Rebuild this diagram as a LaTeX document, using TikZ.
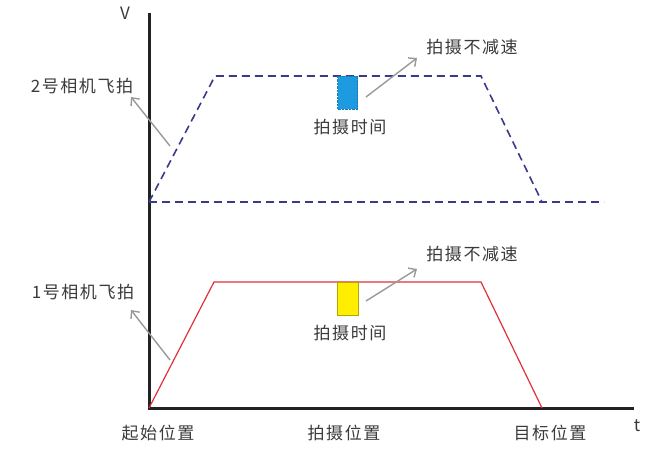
\documentclass[tikz,border=0pt]{standalone}
\usepackage{fontspec}
\setmainfont{Noto Sans CJK SC}[LetterSpace=9]
\usetikzlibrary{arrows.meta}
\definecolor{axisc}{HTML}{222222}
\definecolor{navy}{HTML}{3A3A8C}
\definecolor{redc}{HTML}{E0303A}
\definecolor{arrc}{HTML}{999999}
\definecolor{txtc}{HTML}{3A3A3A}
\definecolor{bluebox}{HTML}{1E9BE0}
\definecolor{yelbox}{HTML}{FFEE00}
\begin{document}
\begin{tikzpicture}[x=1pt,y=-1pt,
  lbl/.style={text=txtc,font=\fontsize{17}{19}\selectfont,inner sep=0pt},
  axisline/.style={draw=axisc,line width=3pt},
  bluecurve/.style={draw=navy,line width=1.6pt,dash pattern=on 8pt off 5pt},
  redcurve/.style={draw=redc,line width=1.2pt},
  callout/.style={draw=arrc,line width=1.4pt,-{Straight Barb[length=6pt,width=11pt]}},
]
\useasboundingbox (0,0) rectangle (649,456);
% axes
\coordinate (O) at (149,408);
\coordinate (Vtop) at (149,13);
\coordinate (Tend) at (634,408);
\draw[axisline] (Vtop) -- (O) -- (Tend);
\node[lbl] (V) at (125,13) {V};
\node[lbl] (t) at (637,426) {t};
% blue dashed profile
\coordinate (b0) at (149,202);
\coordinate (b1) at (215,76);
\coordinate (b2) at (481,76);
\coordinate (b3) at (542,202);
\coordinate (b4) at (604,202);
\draw[bluecurve] (b0) -- (b1) -- (b2) -- (b3);
\draw[bluecurve] (b0) -- (b4);
% red profile
\coordinate (r1) at (214,282);
\coordinate (r2) at (481,282);
\coordinate (r3) at (542,408);
\draw[redcurve] (O) -- (r1) -- (r2) -- (r3);
% boxes
\node[draw=bluebox!80!black,densely dotted,line width=0.4pt,fill=bluebox,minimum width=20pt,minimum height=33pt,inner sep=0pt] (bbox) at (347.5,92.5) {};
\node[draw=yelbox!70!black,line width=0.5pt,fill=yelbox,minimum width=21pt,minimum height=33pt,inner sep=0pt] (ybox) at (347.5,298.5) {};
% labels
\node[lbl] (bt) at (350,127) {拍摄时间};
\node[lbl] (yt) at (350,333) {拍摄时间};
\node[lbl] (bn) at (472,47) {拍摄不减速};
\node[lbl] (yn) at (472,254) {拍摄不减速};
\node[lbl] (cam2) at (82,86) {2号相机飞拍};
\node[lbl] (cam1) at (83,292) {1号相机飞拍};
\node[lbl] (start) at (158,433) {起始位置};
\node[lbl] (shoot) at (344,433) {拍摄位置};
\node[lbl] (goal) at (550,433) {目标位置};
% callouts
\coordinate (a1s) at (366,97);
\coordinate (a1e) at (417,58);
\coordinate (a2s) at (366,301);
\coordinate (a2e) at (417,269);
\coordinate (a3s) at (170,146);
\coordinate (a3e) at (131,97);
\coordinate (a4s) at (170,360);
\coordinate (a4e) at (131,310);
\draw[callout] (a1s) -- (a1e);
\draw[callout] (a2s) -- (a2e);
\draw[callout] (a3s) -- (a3e);
\draw[callout] (a4s) -- (a4e);
\end{tikzpicture}
\end{document}
